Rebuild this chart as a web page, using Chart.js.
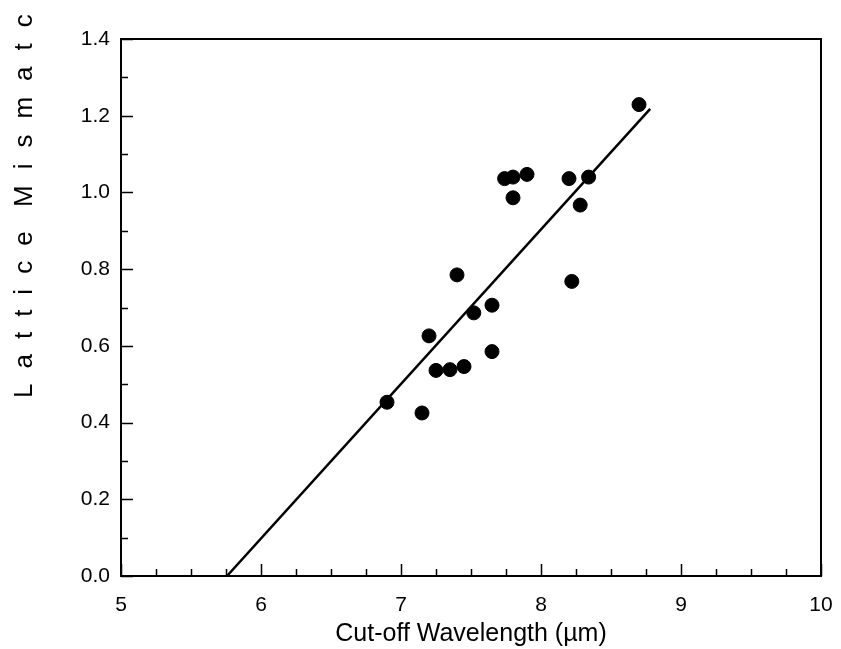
<!DOCTYPE html>
<html>
<head>
<meta charset="utf-8">
<script src="https://cdn.jsdelivr.net/npm/chart.js@4.4.1/dist/chart.umd.min.js"></script>
<style>
  html, body { margin: 0; padding: 0; background: #fff; }
  #wrap { width: 841px; height: 649px; }
</style>
</head>
<body>
<div id="wrap"><canvas id="mychart" width="841" height="649"></canvas></div>
<script>
// measured points (cut-off wavelength in um, lattice mismatch)
const wavelength = [6.90, 7.15, 7.20, 7.25, 7.35, 7.45, 7.40, 7.52, 7.65, 7.65, 7.74, 7.80, 7.80, 7.90, 8.20, 8.34, 8.28, 8.22, 8.70];
const mismatch   = [0.453, 0.425, 0.626, 0.536, 0.538, 0.546, 0.785, 0.686, 0.706, 0.585, 1.036, 1.040, 0.986, 1.047, 1.036, 1.040, 0.967, 0.768, 1.229];

// linear fit, end points as drawn
const fitX = [5.757, 8.78];
const fitY = [0, 1.218];

const xTicks = [5, 6, 7, 8, 9, 10];
const yTicks = [0, 0.2, 0.4, 0.6, 0.8, 1.0, 1.2, 1.4];
const xMinorStep = 0.25;
const yMinorStep = 0.1;

const yTitleWords = ['Lattice', 'Mismatch'];
const xTitle = 'Cut-off Wavelength (\u00b5m)';

const FONT = '"Liberation Sans", Arial, sans-serif';

const points = wavelength.map((x, i) => ({ x: x, y: mismatch[i] }));
const fitLine = fitX.map((x, i) => ({ x: x, y: fitY[i] }));

// frame + inward ticks + spaced y title
const framePlugin = {
  id: 'frame',
  afterDraw(chart) {
    const ctx = chart.ctx;
    const a = chart.chartArea;
    const xs = chart.scales.x, ys = chart.scales.y;
    ctx.save();
    ctx.strokeStyle = '#000';
    ctx.lineWidth = 2;
    ctx.strokeRect(a.left, a.top, a.right - a.left, a.bottom - a.top);

    ctx.lineWidth = 1.5;
    ctx.beginPath();
    for (let v = xs.min; v <= xs.max + 1e-9; v += xMinorStep) {
      const px = Math.round(xs.getPixelForValue(v)) + 0.5;
      const major = Math.abs(v - Math.round(v)) < 1e-6;
      const len = major ? 12 : 7;
      ctx.moveTo(px, a.bottom);
      ctx.lineTo(px, a.bottom - len);
    }
    for (let v = ys.min; v <= ys.max + 1e-9; v += yMinorStep) {
      const py = Math.round(ys.getPixelForValue(v)) + 0.5;
      const major = Math.abs(v * 5 - Math.round(v * 5)) < 1e-6;
      const len = major ? 12 : 7;
      ctx.moveTo(a.left, py);
      ctx.lineTo(a.left + len, py);
    }
    ctx.stroke();

    // y axis title, letter spaced, runs off the top like the original
    ctx.translate(25, 0);
    ctx.rotate(-Math.PI / 2);
    ctx.fillStyle = '#000';
    ctx.font = '26px ' + FONT;
    ctx.textAlign = 'left';
    ctx.textBaseline = 'middle';
    ctx.letterSpacing = '15px';
    ctx.fillText(yTitleWords[0], -398, 0);
    ctx.letterSpacing = '16px';
    ctx.fillText(yTitleWords[1], -207, 0);
    ctx.restore();
  }
};

var ctx = document.getElementById('mychart').getContext('2d');
var myChart = new Chart(ctx, {
  type: 'scatter',
  data: {
    datasets: [{
      label: 'Data',
      data: points,
      backgroundColor: '#000',
      borderColor: '#000',
      pointRadius: 7,
      pointHoverRadius: 7,
      order: 1
    },
    {
      type: 'line',
      label: 'Fit',
      data: fitLine,
      borderColor: '#000',
      borderWidth: 2.5,
      pointRadius: 0,
      fill: false,
      order: 2
    }]
  },
  options: {
    responsive: false,
    animation: false,
    events: [],
    layout: { padding: { top: 39, right: 0, left: 0, bottom: 0 } },
    plugins: {
      legend: { display: false },
      tooltip: { enabled: false }
    },
    scales: {
      x: {
        type: 'linear',
        min: 5,
        max: 10,
        afterBuildTicks(scale) { scale.ticks = xTicks.map(v => ({ value: v })); },
        afterFit(scale) { scale.height = 73; scale.paddingRight = 20; },
        grid: { display: false, drawTicks: false },
        border: { display: false },
        ticks: {
          padding: 17,
          color: '#000',
          font: { family: FONT, size: 21 },
          callback: v => String(v)
        },
        title: {
          display: true,
          text: xTitle,
          color: '#000',
          font: { family: FONT, size: 25 },
          padding: { top: 1, bottom: 0 }
        }
      },
      y: {
        type: 'linear',
        min: 0,
        max: 1.4,
        afterBuildTicks(scale) { scale.ticks = yTicks.map(v => ({ value: v })); },
        afterFit(scale) { scale.width = 121; },
        grid: { display: false, drawTicks: false },
        border: { display: false },
        ticks: {
          padding: 11,
          color: '#000',
          font: { family: FONT, size: 21 },
          callback: v => Number(v).toFixed(1)
        }
      }
    }
  },
  plugins: [framePlugin]
});
</script>
</body>
</html>
